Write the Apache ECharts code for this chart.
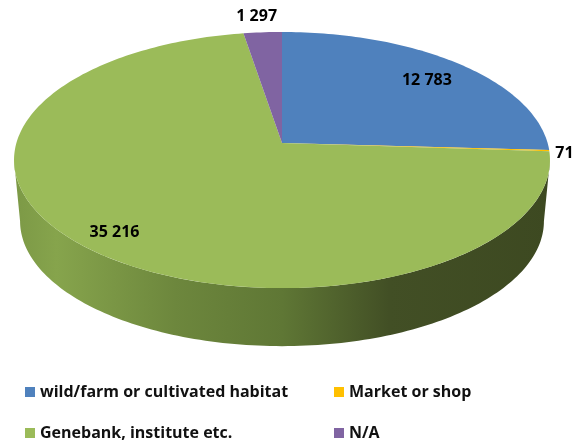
<!DOCTYPE html>
<html>
<head>
<meta charset="utf-8">
<script src="https://cdn.jsdelivr.net/npm/echarts@6/dist/echarts.min.js"></script>
<style>
  html, body { margin: 0; padding: 0; background: #fff; }
  #chart { width: 578px; height: 448px; }
</style>
</head>
<body>
<div id="chart"></div>
<script>
const categories = ['wild/farm or cultivated habitat', 'Market or shop', 'Genebank, institute etc.', 'N/A']
const values = [12783, 71, 35216, 1297]
const valueLabels = ['12 783', '71', '35 216', '1 297']
const colors = ['#4f81bd', '#ffc000', '#9bbb59', '#8064a2']

// label distance from the pie centre (1 = on the rim) and a small pixel nudge
const labelRadius = [0.8, 1.06, 0.86, 1.18]
const labelNudge = [[1, 2], [-1, 2], [0, 2], [-3, 1]]
const total = values.reduce((a, b) => a + b, 0)

// tilted disc: a circle seen in perspective, so the centre sits above the middle of the ellipse
const tilt = 0.133
const topFace = { cx: 282, cy: 143, a: 265.6, b: 125.8 }
const bottomFace = { cx: 282, cy: 204.5, a: 259.6, b: 122.8 }
const frontFrom = Math.acos(-tilt)
const frontTo = 2 * Math.PI - frontFrom

function project(face, angle, r) {
  const s = Math.sin(angle) * r
  const c = Math.cos(angle) * r
  const d = 1 + tilt * c
  return [face.cx + face.a * s / d, face.cy - face.b * c / d]
}

function arc(face, from, to) {
  const steps = Math.max(2, Math.ceil(Math.abs(to - from) / 0.02))
  const pts = []
  for (let i = 0; i <= steps; i++) {
    pts.push(project(face, from + (to - from) * i / steps, 1))
  }
  return pts
}

function renderSlice(index) {
  return function () {
    const before = values.slice(0, index).reduce((a, b) => a + b, 0)
    const from = before / total * 2 * Math.PI
    const to = (before + values[index]) / total * 2 * Math.PI
    const children = []

    // side wall, only the part facing the viewer
    const wallFrom = Math.max(from, frontFrom)
    const wallTo = Math.min(to, frontTo)
    if (wallTo > wallFrom) {
      children.push({
        type: 'polygon',
        shape: { points: arc(topFace, wallFrom, wallTo).concat(arc(bottomFace, wallTo, wallFrom)) },
        style: {
          fill: new echarts.graphic.LinearGradient(0, 0, 1, 0, [
            { offset: 0, color: '#7c9946' },
            { offset: 0.08, color: '#86a44c' },
            { offset: 0.3, color: '#6d873d' },
            { offset: 0.5, color: '#5f7735' },
            { offset: 0.7, color: '#424f25' },
            { offset: 1, color: '#3d4921' }
          ])
        }
      })
    }

    children.push({
      type: 'polygon',
      shape: { points: [[topFace.cx, topFace.cy]].concat(arc(topFace, from, to)) },
      style: { fill: colors[index] }
    })

    const mid = (from + to) / 2
    const pos = project(topFace, mid, labelRadius[index])
    children.push({
      type: 'text',
      x: pos[0] + labelNudge[index][0],
      y: pos[1] + labelNudge[index][1],
      z2: 10,
      style: {
        text: valueLabels[index],
        fill: '#000',
        font: 'bold 16px "Open Sans", sans-serif',
        align: 'center',
        verticalAlign: 'middle'
      }
    })
    return { type: 'group', children: children }
  }
}

const legendText = {
  color: '#111',
  fontFamily: '"Open Sans", sans-serif',
  fontWeight: 'bold',
  fontSize: 16
}

const chart = echarts.init(document.getElementById('chart'), null, { renderer: 'canvas' })
chart.setOption({
  animation: false,
  backgroundColor: '#fff',
  legend: [
    {
      data: [categories[0], categories[2]],
      orient: 'vertical',
      left: 25,
      top: 384,
      itemWidth: 10,
      itemHeight: 10,
      itemGap: 25,
      icon: 'rect',
      padding: 0,
      textStyle: legendText,
      selectedMode: false
    },
    {
      data: [categories[1], categories[3]],
      orient: 'vertical',
      left: 334,
      top: 384,
      itemWidth: 10,
      itemHeight: 10,
      itemGap: 25,
      icon: 'rect',
      padding: 0,
      textStyle: legendText,
      selectedMode: false
    }
  ],
  series: categories.map((name, i) => ({
    type: 'custom',
    name: name,
    coordinateSystem: 'none',
    itemStyle: { color: colors[i] },
    data: [values[i]],
    renderItem: renderSlice(i)
  }))
})
</script>
</body>
</html>
